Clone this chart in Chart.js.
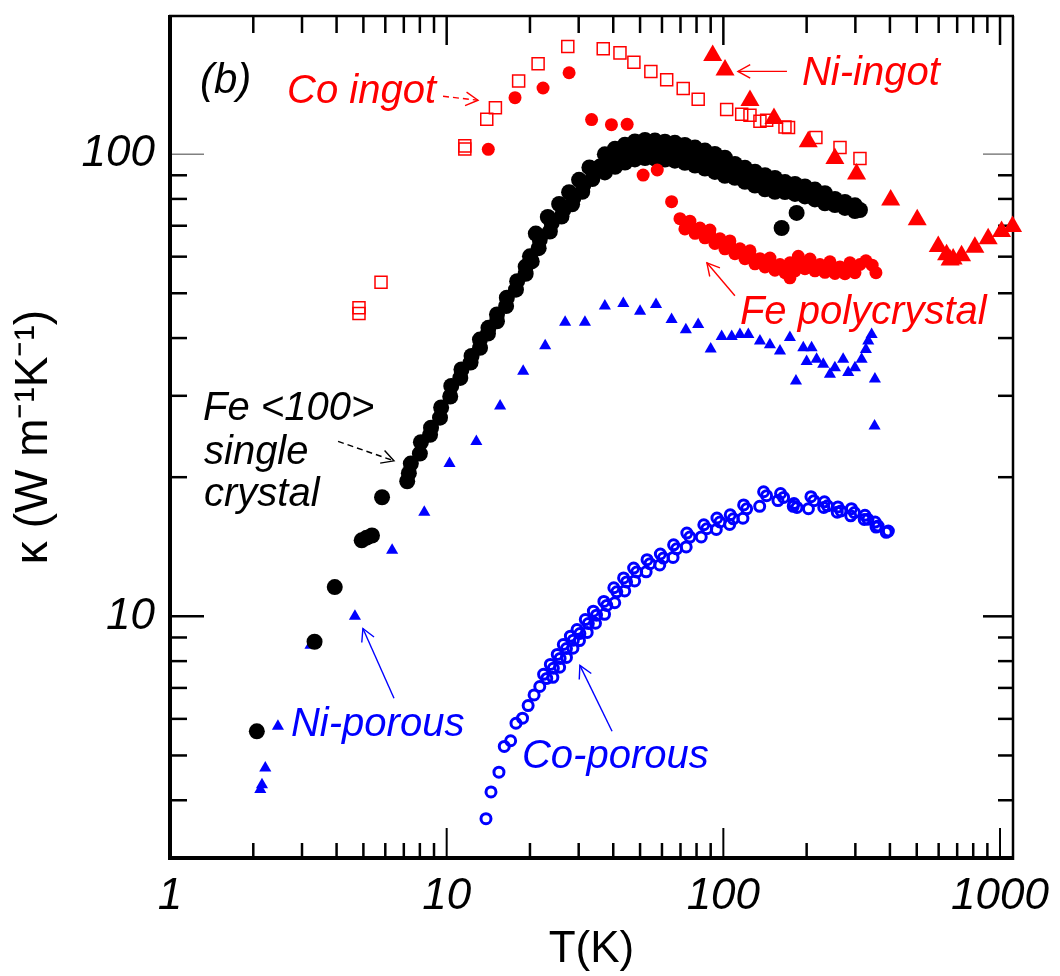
<!DOCTYPE html>
<html lang="en">
<head>
<meta charset="UTF-8">
<title>Thermal conductivity (b)</title>
<script src="https://cdn.jsdelivr.net/npm/chart.js"></script>
<style>
  html, body { margin: 0; padding: 0; background: #ffffff; }
  #wrap { width: 1060px; height: 976px; }
</style>
</head>
<body>
<div id="wrap"><canvas id="chart" width="1060" height="976"></canvas></div>
<script>
  // data: [T (K), kappa (W/mK)]
  const feCrystal = [
    [2.06, 5.64], [3.33, 8.81], [3.94, 11.57], [4.93, 14.6], [5.14, 14.8], [5.37, 14.96], [5.84, 18.1],
    [7.2, 19.6], [7.3, 20.4],
    [7.42, 21.4], [8.0, 22.5], [8.07, 23.8], [8.71, 24.7], [8.78, 25.6], [9.46, 26.9], [9.55, 28.3], [10.3, 29.9],
    [10.39, 31.5], [11.2, 32.8], [11.31, 34.2], [12.2, 35.4], [12.3, 36.6], [13.2, 38.1], [13.19, 39.7], [14.1, 40.9],
    [14.16, 42.1], [15.2, 43.5], [15.2, 45.0], [16.4, 46.9], [16.5, 48.9], [17.8, 50.9], [17.98, 53.1], [19.3, 55.1],
    [19.3, 57.1], [20.3, 58.6], [20.0, 60.1], [21.5, 62.6], [21.7, 65.3], [21.0, 67.3], [23.6, 68.0], [23.96, 70.9],
    [23.2, 73.1], [26.0, 73.3], [26.4, 75.7], [25.5, 78.0], [28.4, 77.9], [28.7, 80.3], [27.7, 82.7], [30.9, 82.9],
    [31.2, 85.7], [30.1, 88.0], [33.6, 88.3], [33.9, 90.9], [32.8, 93.6], [36.5, 93.1],
    [35.8, 94.0], [38.9, 97.0], [42.3, 99.3], [46.0, 101.2], [50.0, 102.5], [54.3, 102.6], [59.0, 102.0],
    [64.1, 101.5], [69.7, 100.8], [75.7, 99.5], [82.3, 98.1], [89.4, 96.6], [97.2, 94.8], [105.6, 92.9],
    [114.8, 91.0], [124.8, 89.3], [135.6, 87.6], [147.4, 86.2], [160.2, 85.3], [174.1, 84.5], [189.2, 83.6],
    [205.6, 82.4], [223.4, 81.1], [242.8, 79.4], [263.9, 78.1], [286.8, 77.0], [311.7, 75.7],
    [37.3, 99.9], [40.6, 102.7], [44.1, 104.8], [47.9, 106.5], [52.1, 107.3], [56.6, 107.0], [61.5, 106.4],
    [66.8, 105.8], [72.6, 104.7], [79.0, 103.3], [85.8, 101.8], [93.2, 100.1], [101.3, 98.2], [110.1, 95.2],
    [119.7, 93.4], [130.1, 91.6], [141.4, 90.0], [153.6, 88.8], [167.0, 87.0], [181.5, 86.2], [197.2, 85.1],
    [214.3, 83.8], [232.9, 82.3], [253.1, 80.0], [275.1, 78.8], [299, 77.5],
    [37.3, 91.3], [40.6, 93.9], [44.1, 95.9], [47.9, 97.4], [52.1, 98.1], [56.6, 97.8], [61.5, 97.3],
    [66.8, 96.8], [72.6, 95.8], [79.0, 94.5], [85.8, 93.1], [93.2, 91.5], [101.3, 89.8], [110.1, 88.9],
    [119.7, 87.1], [130.1, 85.5], [141.4, 83.9], [153.6, 82.9], [167.0, 82.8], [181.5, 82.0], [197.2, 81.0],
    [214.3, 79.8], [232.9, 78.3], [253.1, 77.6], [275.1, 76.5], [299, 75.3],
    [162.4, 69.2], [184, 74.6]
  ];

  const fePoly = [
    [14.14, 102.4], [17.66, 132.5], [22.3, 139], [27.7, 150], [33.4, 118.8], [39.4, 115.8], [44.9, 116],
    [51.3, 90.1], [57.7, 92.4], [65.0, 78.9],
    [69.7, 72.5], [75.7, 70.2], [82.3, 69.2], [89.4, 67.2], [97.2, 65.6], [105.6, 63.6], [114.8, 62.4],
    [124.8, 60.6], [135.6, 59.4], [147.4, 58.5], [160.2, 57.7], [174.1, 57.0], [189.2, 58.8], [205.6, 58.2],
    [223.4, 57.7], [242.8, 57.3], [263.9, 57.0], [286.8, 57.0], [311.7, 57.7], [327.6, 58.8],
    [72.6, 68.9], [79.0, 67.4], [85.8, 65.9], [93.2, 64.1], [101.3, 62.4], [110.1, 60.9], [119.7, 59.4],
    [130.1, 57.9], [141.4, 57.0], [153.6, 56.1], [167.0, 55.4], [181.5, 55.9], [197.2, 56.5], [214.3, 55.9],
    [232.9, 55.5], [253.1, 55.2], [275.1, 55.1], [299, 55.4],
    [75.7, 71.6], [89.4, 68.5], [105.6, 64.9], [124.8, 61.8], [147.4, 59.6], [174.1, 58.2], [205.6, 59.3],
    [242.8, 58.5], [286.8, 58.2],
    [186.6, 60.1], [174.0, 54.0], [345, 57.5], [356, 55.4]
  ];

  const coIngot = [
    [4.82, 46.5], [4.82, 45.2], [5.79, 52.8], [11.63, 104.2], [11.63, 102.6], [13.96, 119], [15.0, 126],
    [18.2, 144], [21.4, 156.9], [27.4, 171], [36.8, 169], [42.3, 165.6], [47.5, 158], [54.7, 151],
    [62.4, 144.9], [71.6, 138.6], [81.1, 131.4], [102.8, 124.9], [116.5, 122], [124.8, 121.4],
    [135.6, 117.8], [143.4, 118.4], [167, 114.5], [172, 114.2], [216, 108.6], [264, 103.4], [311.7, 97.9]
  ];

  const niIngot = [
    [91.5, 163.5], [101.4, 152], [124.8, 130.7], [152.4, 119.4], [202.7, 106.3], [253, 97.9], [303, 90.6],
    [402.5, 79.6], [502, 72.1], [598, 63.1], [641, 60.6], [660, 59.0], [677, 59.3], [726, 60.3],
    [811, 62.9], [906, 65.6], [1013, 68.0], [1110, 69.7]
  ];

  const niPorous = [
    [2.12, 4.22], [2.15, 4.32], [2.21, 4.70], [2.455, 5.78], [3.22, 8.66], [4.66, 10.0], [6.35, 13.9], [8.3, 16.8],
    [10.24, 21.4], [12.8, 23.9], [15.6, 28.5], [18.9, 33.9], [22.7, 38.5], [26.8, 43.3], [31.6, 43.3], [37.3, 46.9],
    [43.5, 47.5], [50.0, 45.7], [57.1, 47.3], [65.0, 43.9], [73.2, 41.7], [81.1, 42.8], [90.0, 37.9], [98.6, 40.3],
    [107.2, 40.3], [114.8, 40.7], [123.1, 40.7], [135.6, 39.4], [147.3, 38.7], [160.2, 37.5], [174.0, 40.1],
    [183.0, 32.3], [194.5, 38.1], [208.4, 38.1], [200.0, 35.6], [217.3, 36.0], [229.7, 35.1], [242.8, 33.4],
    [253.0, 34.5], [271.0, 36.0], [282.7, 33.7], [299.0, 34.5], [316.0, 36.0], [327.5, 37.8], [334.0, 39.4],
    [343.5, 40.7], [353.0, 32.6], [352.0, 25.8]
  ];

  const coPorous = [
    [13.87, 3.65], [14.46, 4.17], [15.45, 4.60], [16.15, 5.23], [17.03, 5.38], [17.8, 5.87], [18.8, 6.02],
    [19.7, 6.41], [20.7, 6.76], [21.7, 7.05], [23.0, 7.34], [24.3, 7.72], [25.7, 8.11], [27.1, 8.52],
    [28.7, 8.88], [30.3, 9.18], [32.5, 9.65], [34.8, 10.06], [37.9, 10.56], [41.2, 11.3], [44.7, 11.87],
    [48.6, 12.47], [54.3, 13.0], [60.7, 13.37], [67.8, 14.0], [75.7, 14.84], [87.1, 15.47], [97.2, 16.0],
    [108.6, 16.25], [121.4, 17.08], [143.3, 18.24], [165.1, 18.08], [184.5, 17.2], [212.5, 17.79],
    [237.8, 17.34], [266.1, 16.91], [297.7, 16.77], [333.1, 16.22], [362.6, 15.68], [394.8, 15.29],
    [24.2, 7.38], [25.6, 7.76], [27.1, 8.15], [28.6, 8.53], [30.2, 8.86], [32.2, 9.23], [34.5, 9.66],
    [37.2, 10.1], [40.5, 10.7], [44.0, 11.35], [47.8, 11.93], [52.6, 12.48], [58.9, 12.92], [65.8, 13.41],
    [73.4, 14.13], [83.2, 14.85], [94.3, 15.41], [105.4, 15.8], [117.7, 16.3], [135.3, 17.3], [157.5, 17.8],
    [178.9, 17.3], [203, 17.1], [230.6, 17.2], [258, 16.8], [288.7, 16.5], [323, 16.2], [356.4, 15.6], [387.9, 15.2],
    [22.4, 7.49], [23.7, 7.87], [25.1, 8.27], [26.4, 8.69], [28.0, 9.06], [29.6, 9.36], [31.7, 9.84],
    [33.9, 10.26], [37.0, 10.77], [40.2, 11.53], [43.6, 12.11], [47.4, 12.72], [53.0, 13.26], [59.2, 13.64],
    [66.1, 14.28], [73.8, 15.14], [85.0, 15.78], [94.8, 16.32], [105.9, 16.58], [118.4, 17.42], [139.8, 18.6],
    [161.0, 18.44], [180, 17.54], [207.3, 18.15], [231.9, 17.69], [259.5, 17.25], [290.4, 17.1], [324.9, 16.54],
    [353.6, 15.99]
  ];

  const xMajorTicks = [1, 10, 100, 1000];
  const xMinorTicks = [2, 3, 4, 5, 6, 7, 8, 9, 20, 30, 40, 50, 60, 70, 80, 90, 200, 300, 400, 500, 600, 700, 800, 900];
  const yMajorTicks = [10, 100];
  const yMinorTicks = [4, 5, 6, 7, 8, 9, 20, 30, 40, 50, 60, 70, 80, 90];

  const RED = '#ff0000';
  const BLUE = '#0000ff';
  const FONT = '"Liberation Sans", Arial, Helvetica, sans-serif';

  // text labels and arrows, anchored in data coordinates
  const notes = [
    { text: '(b)', at: [1.283, 135.3], color: '#000', size: 42 },
    { text: 'Co ingot', at: [2.648, 128.8], color: RED, size: 40 },
    { text: 'Ni-ingot', at: [192.3, 140.9], color: RED, size: 40 },
    { text: 'Fe polycrystal', at: [114.8, 42.8], color: RED, size: 40 },
    { text: 'Fe <100>', at: [1.316, 26.6], color: '#000', size: 40 },
    { text: 'single', at: [1.327, 21.4], color: '#000', size: 40 },
    { text: 'crystal', at: [1.327, 17.3], color: '#000', size: 40 },
    { text: 'Ni-porous', at: [2.737, 5.51], color: BLUE, size: 40 },
    { text: 'Co-porous', at: [18.71, 4.70], color: BLUE, size: 40 }
  ];
  const arrows = [
    { from: [9.70, 133.4], to: [12.98, 130.8], color: RED, dash: true },
    { from: [169.8, 151], to: [112.9, 151], color: RED },
    { from: [110.1, 49.4], to: [87.2, 58.2], color: RED },
    { from: [4.05, 23.9], to: [6.45, 21.7], color: '#000', dash: true },
    { from: [6.45, 6.65], to: [4.98, 9.41], color: BLUE },
    { from: [39.6, 5.64], to: [30.3, 7.83], color: BLUE }
  ];

  const pts = arr => arr.map(p => ({ x: p[0], y: p[1] }));

  // box and inward ticks
  const framePlugin = {
    id: 'frame',
    beforeDatasetsDraw(chart) {
      const { ctx, chartArea: a, scales: { x, y } } = chart;
      const line = (x1, y1, x2, y2, w, c) => {
        ctx.beginPath();
        ctx.lineWidth = w;
        ctx.strokeStyle = c || '#000';
        ctx.moveTo(x1, y1);
        ctx.lineTo(x2, y2);
        ctx.stroke();
      };
      ctx.save();
      ctx.lineCap = 'butt';
      xMinorTicks.forEach(v => {
        const px = x.getPixelForValue(v);
        line(px, a.bottom, px, a.bottom - 15, 2.5);
        line(px, a.top, px, a.top + 17, 2.5);
      });
      xMajorTicks.forEach(v => {
        if (v <= x.min) return;
        const px = x.getPixelForValue(v);
        line(px, a.bottom, px, a.bottom - 30, 2);
        line(px, a.top, px, a.top + 29, 2.5);
      });
      yMinorTicks.forEach(v => {
        const py = y.getPixelForValue(v);
        line(a.left, py, a.left + 17, py, 2.5);
        line(a.right, py, a.right - 15, py, 2.5);
      });
      yMajorTicks.forEach(v => {
        const py = y.getPixelForValue(v);
        const c = v === 100 ? '#808080' : '#000';
        const w = v === 100 ? 1.5 : 2.5;
        line(a.left, py, a.left + 34, py, w, c);
        line(a.right, py, a.right - 30, py, w, c);
      });
      line(a.left - 1, a.top, a.right + 1, a.top, 2.5);
      line(a.right, a.top, a.right, a.bottom + 2, 2.5);
      line(a.left, a.top - 1, a.left, a.bottom + 2, 4);
      line(a.left - 2, a.bottom, a.right + 1, a.bottom, 4);
      ctx.restore();
    }
  };

  const notesPlugin = {
    id: 'notes',
    afterDatasetsDraw(chart) {
      const { ctx, scales: { x, y } } = chart;
      ctx.save();
      ctx.textBaseline = 'alphabetic';
      ctx.textAlign = 'left';
      notes.forEach(n => {
        ctx.font = 'italic ' + n.size + 'px ' + FONT;
        ctx.fillStyle = n.color;
        ctx.fillText(n.text, x.getPixelForValue(n.at[0]), y.getPixelForValue(n.at[1]));
      });
      arrows.forEach(ar => {
        const x1 = x.getPixelForValue(ar.from[0]), y1 = y.getPixelForValue(ar.from[1]);
        const x2 = x.getPixelForValue(ar.to[0]), y2 = y.getPixelForValue(ar.to[1]);
        const ang = Math.atan2(y2 - y1, x2 - x1);
        ctx.strokeStyle = ar.color;
        ctx.lineWidth = 1.4;
        ctx.setLineDash(ar.dash ? [6, 4] : []);
        ctx.beginPath();
        ctx.moveTo(x1, y1);
        ctx.lineTo(x2, y2);
        ctx.stroke();
        ctx.setLineDash([]);
        ctx.beginPath();
        const h = 14, s = 0.5;
        ctx.moveTo(x2 - h * Math.cos(ang - s), y2 - h * Math.sin(ang - s));
        ctx.lineTo(x2, y2);
        ctx.lineTo(x2 - h * Math.cos(ang + s), y2 - h * Math.sin(ang + s));
        ctx.stroke();
      });
      ctx.restore();
    }
  };

  const ctx = document.getElementById('chart').getContext('2d');

  new Chart(ctx, {
    type: 'scatter',
    data: {
      datasets: [
        { label: 'Ni-ingot', data: pts(niIngot), pointStyle: 'triangle', pointRadius: 11,
          backgroundColor: RED, borderWidth: 0, clip: false },
        { label: 'Fe polycrystal', data: pts(fePoly), pointStyle: 'circle', pointRadius: 6.5,
          backgroundColor: RED, borderWidth: 0, clip: false },
        { label: 'Co ingot', data: pts(coIngot), pointStyle: 'rect', pointRadius: 8.5,
          backgroundColor: 'rgba(0,0,0,0)', borderColor: RED, borderWidth: 1.5, clip: false },
        { label: 'Fe <100> single crystal', data: pts(feCrystal), pointStyle: 'circle', pointRadius: 8,
          backgroundColor: '#000', borderWidth: 0, clip: false },
        { label: 'Ni-porous', data: pts(niPorous), pointStyle: 'triangle', pointRadius: 7,
          backgroundColor: BLUE, borderWidth: 0, clip: false },
        { label: 'Co-porous', data: pts(coPorous), pointStyle: 'circle', pointRadius: 5,
          backgroundColor: 'rgba(0,0,0,0)', borderColor: BLUE, borderWidth: 3, clip: false }
      ]
    },
    options: {
      responsive: false,
      animation: false,
      events: [],
      layout: { padding: { top: 16, right: 47, left: 0, bottom: 0 } },
      plugins: {
        legend: { display: false },
        tooltip: { enabled: false }
      },
      elements: { point: { hoverRadius: 0 } },
      scales: {
        x: {
          type: 'logarithmic',
          position: 'bottom',
          min: 1,
          max: 1114,
          grid: { display: false, drawTicks: false },
          border: { display: false },
          ticks: {
            color: '#000',
            font: { family: FONT, size: 44, style: 'italic' },
            padding: 12,
            maxRotation: 0,
            autoSkip: false,
            callback: v => String(v)
          },
          title: {
            display: true,
            text: 'T(K)',
            color: '#000',
            font: { family: FONT, size: 44 },
            padding: { top: 0, bottom: 0 }
          },
          afterBuildTicks: s => { s.ticks = xMajorTicks.map(v => ({ value: v })); },
          afterFit: s => { s.height = 118; s.paddingLeft = 0; s.paddingRight = 0; }
        },
        y: {
          type: 'logarithmic',
          position: 'left',
          min: 3,
          max: 199,
          grid: { display: false, drawTicks: false },
          border: { display: false },
          ticks: {
            color: '#000',
            font: { family: FONT, size: 44, style: 'italic' },
            padding: 15,
            autoSkip: false,
            callback: v => String(v)
          },
          title: {
            display: true,
            text: 'κ (W m⁻¹K⁻¹)',
            color: '#000',
            font: { family: FONT, size: 46 },
            padding: { top: 7, bottom: 0 }
          },
          afterBuildTicks: s => { s.ticks = yMajorTicks.map(v => ({ value: v })); },
          afterFit: s => { s.width = 170; s.paddingTop = 0; s.paddingBottom = 0; }
        }
      }
    },
    plugins: [framePlugin, notesPlugin]
  });
</script>
</body>
</html>
